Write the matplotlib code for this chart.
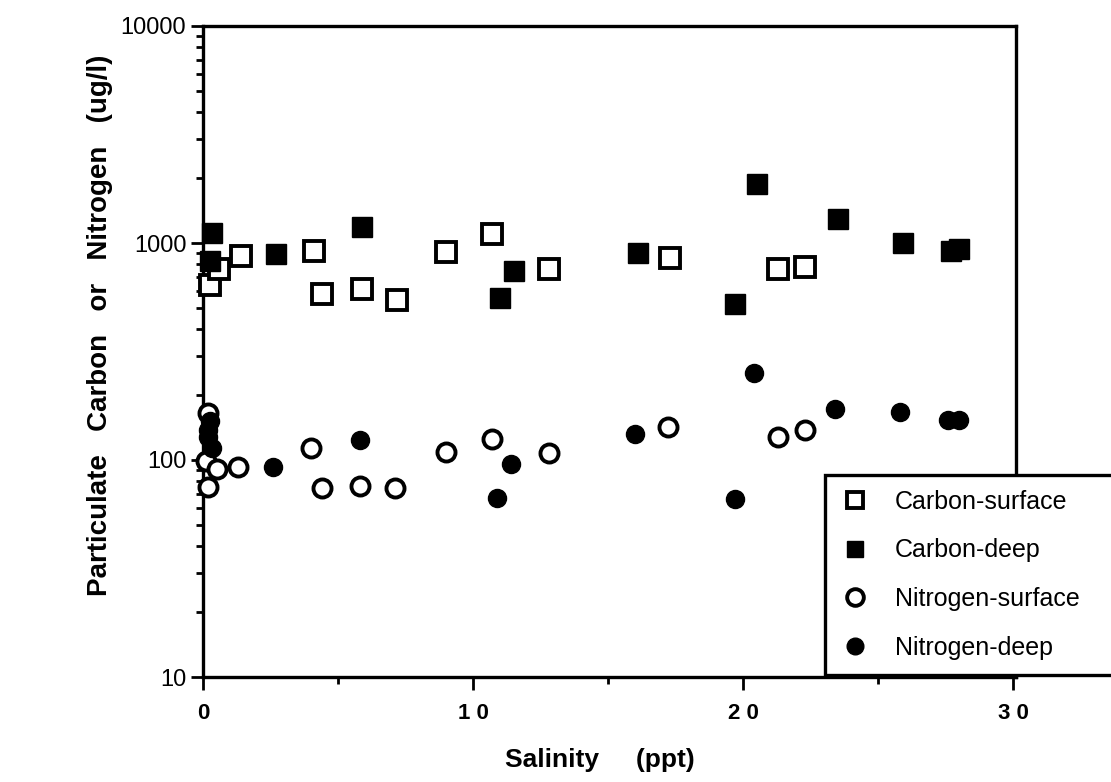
import matplotlib.pyplot as plt
from matplotlib.ticker import LogLocator, NullFormatter

plt.rcParams["font.family"] = ["Liberation Sans", "DejaVu Sans"]

# salinity (ppt) and particulate concentration (ug/l)
carbon_surface_x = [0.26, 0.6, 1.4, 4.1, 4.4, 5.9, 7.2, 9.0, 10.7, 12.8, 17.3, 21.3, 22.3]
carbon_surface_y = [640, 757, 869, 916, 581, 612, 546, 906, 1096, 757, 851, 757, 773]

carbon_deep_x = [0.33, 0.25, 2.7, 5.9, 11.0, 11.5, 16.1, 19.7, 20.5, 23.5, 25.9, 27.7, 28.0]
carbon_deep_y = [1109, 824, 887, 1181, 557, 741, 897, 523, 1862, 1285, 997, 915, 940]

nitrogen_surface_x = [0.2, 0.1, 0.5, 0.2, 1.3, 4.0, 4.4, 5.8, 7.1, 9.0, 10.7, 12.8, 17.2, 21.3, 22.3]
nitrogen_surface_y = [165, 99, 91, 75, 93, 113, 74, 76, 74, 109, 125, 108, 142, 127, 138]

nitrogen_deep_x = [0.25, 0.2, 0.2, 0.33, 2.6, 5.8, 10.9, 11.4, 16.0, 19.7, 20.4, 23.4, 25.8, 27.6, 28.0]
nitrogen_deep_y = [152, 138, 127, 114, 93, 123, 67, 96, 132, 66, 252, 172, 167, 153, 153]

x_ticks = [0, 10, 20, 30]
x_tick_labels = ["0", "1 0", "2 0", "3 0"]
y_ticks = [10, 100, 1000, 10000]
y_tick_labels = ["10", "100", "1000", "10000"]

fig = plt.figure(figsize=(11.11, 7.82), dpi=100)
ax = fig.add_axes([203 / 1111, 1 - 677 / 782, (1016 - 203) / 1111, (677 - 26) / 782])

ms_sq = 14
ms_ci = 13
ax.plot(carbon_surface_x, carbon_surface_y, "s", ms=ms_sq, mfc="white", mec="black",
        mew=2.8, ls="none", label="Carbon-surface", clip_on=False, zorder=3)
ax.plot(carbon_deep_x, carbon_deep_y, "s", ms=ms_sq, mfc="black", mec="black",
        mew=1, ls="none", label="Carbon-deep", clip_on=False, zorder=3)
ax.plot(nitrogen_surface_x, nitrogen_surface_y, "o", ms=ms_ci, mfc="white", mec="black",
        mew=2.8, ls="none", label="Nitrogen-surface", clip_on=False, zorder=3)
ax.plot(nitrogen_deep_x, nitrogen_deep_y, "o", ms=ms_ci, mfc="black", mec="black",
        mew=1, ls="none", label="Nitrogen-deep", clip_on=False, zorder=3)

ax.set_yscale("log")
ax.set_ylim(10, 10000)
ax.set_xlim(0, 30.1)

ax.set_yticks(y_ticks, labels=y_tick_labels)
ax.yaxis.set_minor_locator(LogLocator(base=10, subs=range(2, 10)))
ax.yaxis.set_minor_formatter(NullFormatter())
ax.set_xticks(x_ticks, labels=x_tick_labels, fontweight="bold")
ax.set_xticks([5, 15, 25], minor=True)

ax.tick_params(axis="y", which="major", direction="out", length=9, width=2, labelsize=17, pad=3)
ax.tick_params(axis="y", which="minor", direction="out", length=5, width=2)
ax.tick_params(axis="x", which="major", direction="out", length=9, width=2, labelsize=16, pad=10)
ax.tick_params(axis="x", which="minor", direction="out", length=5, width=2)
for s in ax.spines.values():
    s.set_linewidth(2.4)

fig.text(100 / 1111, 1 - 325 / 782, "Particulate   Carbon   or   Nitrogen   (ug/l)",
         rotation=90, ha="center", va="center", fontsize=20, fontweight="bold")
fig.text(600 / 1111, 1 - 760 / 782, "Salinity     (ppt)", ha="center", va="center",
         fontsize=19, fontweight="bold")

leg_top = 1 - 475 / 782
leg_bottom = 1 - 673 / 782
leg = fig.legend(loc="upper left",
                 bbox_to_anchor=(825 / 1111, leg_bottom, 0.3, leg_top - leg_bottom),
                 mode="expand", fontsize=18, frameon=True, fancybox=False, edgecolor="black",
                 framealpha=1, labelspacing=0.98, handletextpad=1.0, handlelength=1.2,
                 borderpad=0.6, borderaxespad=0)
leg.get_frame().set_linewidth(2.4)
for h in leg.legend_handles:
    h.set_markersize(12)

fig.savefig("out.png", dpi=100)
